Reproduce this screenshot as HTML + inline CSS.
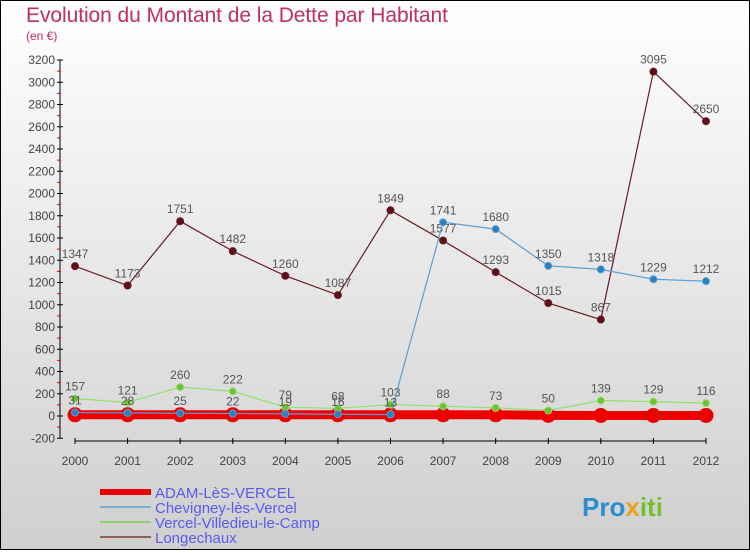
<!DOCTYPE html>
<html><head><meta charset="utf-8"><style>
body{margin:0}
svg text{font-family:"Liberation Sans",sans-serif}
</style></head><body>
<svg id="c" width="750" height="550" xmlns="http://www.w3.org/2000/svg">
<defs><linearGradient id="bg" x1="0" y1="0" x2="0" y2="1"><stop offset="0" stop-color="#ffffff"/><stop offset="1" stop-color="#cfcfcf"/></linearGradient></defs>
<rect x="0.5" y="0.5" width="749" height="549" fill="url(#bg)" stroke="#000"/>
<text x="26" y="22" font-size="21" fill="#c0305a" textLength="422">Evolution du Montant de la Dette par Habitant</text>
<text x="26" y="40" font-size="12" fill="#c0305a">(en €)</text>
<g id="axes"></g><g id="series"></g><g id="legend"></g>
<text x="582" y="516" font-size="26" font-weight="bold" fill="#2a8fd0">Pro<tspan fill="#f0a020">x</tspan><tspan fill="#70c030">iti</tspan></text>
</svg>
<script>
const years=[2000,2001,2002,2003,2004,2005,2006,2007,2008,2009,2010,2011,2012];
const adam=[11,11,11,11,11,11,11,11,11,6,5,5,5];
const chevigney=[31,28,25,22,19,16,13,1741,1680,1350,1318,1229,1212];
const vercel=[157,121,260,222,79,68,103,88,73,50,139,129,116];
const longechaux=[1347,1173,1751,1482,1260,1087,1849,1577,1293,1015,867,3095,2650];
const yTicks=[-200,0,200,400,600,800,1000,1200,1400,1600,1800,2000,2200,2400,2600,2800,3000,3200];
const NS="http://www.w3.org/2000/svg";
const X=i=>75+i*(706-75)/(years.length-1);
const Y=v=>416-v*356/3200;
function mk(p,t,a){const e=document.createElementNS(NS,t);for(const k in a)e.setAttribute(k,a[k]);p.appendChild(e);return e;}
const ax=document.getElementById('axes');
let yl=mk(ax,'line',{x1:60,y1:Y(3200),x2:60,y2:Y(-200),stroke:'#000'});


yTicks.forEach(v=>{
 mk(ax,'line',{x1:57,x2:63,y1:Y(v),y2:Y(v),stroke:'#000'});
 if(v<3200) mk(ax,'line',{x1:57,x2:61,y1:Y(v+100),y2:Y(v+100),stroke:'#e00'});
 const t=mk(ax,'text',{x:55,y:Y(v)+4,'font-size':12,fill:'#444','text-anchor':'end'});t.textContent=v;
 
 
});
let xl=mk(ax,'line',{x1:X(0),x2:X(12),y1:441,y2:441,stroke:'#000'});


years.forEach((y,i)=>{
 mk(ax,'line',{x1:X(i),x2:X(i),y1:438,y2:444,stroke:'#000'});
 const t=mk(ax,'text',{x:X(i),y:465,'font-size':12,fill:'#444','text-anchor':'middle'});t.textContent=y;
 
 
});
const sg=document.getElementById('series');
function series(name,data,color,w,r,fill,labels){
 const g=mk(sg,'g',{});
 
 
 mk(g,'polyline',{points:data.map((v,i)=>X(i)+','+Y(v)).join(' '),fill:'none',stroke:color,'stroke-width':w});
 data.forEach((v,i)=>{
  const c=mk(g,'circle',{cx:X(i),cy:Y(v),r:r,fill:fill,stroke:color,'stroke-width':1});
  
  
  if(labels){const t=mk(g,'text',{x:X(i),y:Y(v)-8,'font-size':12,fill:'#555','text-anchor':'middle'});t.textContent=v;}
 });
}
series('adam',adam,'#ee0000',9,7,'#ee0000',false);
series('longechaux',longechaux,'#6b1a22',1.2,3.5,'#5a1018',true);
series('vercel',vercel,'#90e070',1.2,3.5,'#70c030',true);
series('chevigney',chevigney,'#5a9fd0',1.2,3.5,'#2a7fc0',true);
const lg=document.getElementById('legend');
[['ADAM-LèS-VERCEL','#ee0000',6],['Chevigney-lès-Vercel','#7aaed0',2],['Vercel-Villedieu-le-Camp','#90d070',2],['Longechaux','#906060',2]].forEach((d,i)=>{
 const y=492+i*15;
 const l=mk(lg,'line',{x1:100,x2:151,y1:y,y2:y,stroke:d[1],'stroke-width':d[2]});
 
 
 const t=mk(lg,'text',{x:155,y:y+6,'font-size':15,fill:'#5a5af0'});t.textContent=d[0];
 
 
});
</script>
</body></html>
